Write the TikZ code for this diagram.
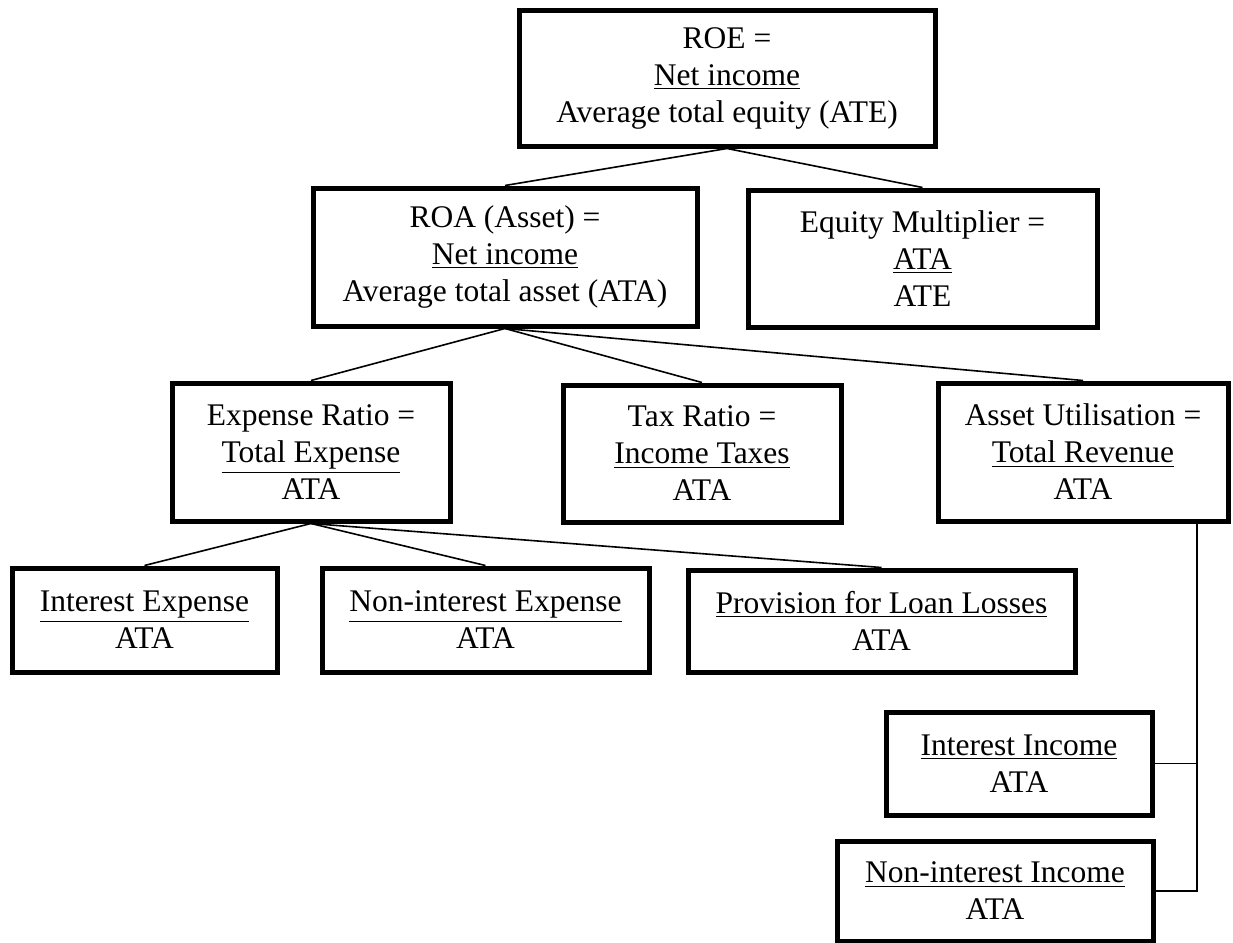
\documentclass[tikz,border=0pt]{standalone}
\usepackage{fontspec}
\setmainfont{Liberation Serif}
\begin{document}
\begin{tikzpicture}[x=0.5pt, y=-0.5pt, thick, ratio box/.style={draw, line width=2.5pt, align=center, inner sep=0pt, font=\fontsize{15.75}{18.5}\selectfont}]
\useasboundingbox (0,0) rectangle (1233,943);
\begin{scope}[every node/.style={ratio box}]
\node (roe) at (727,78) [minimum width=208pt, minimum height=68pt] {ROE =\\\underline{Net income}\\Average total equity (ATE)};
\node (roa) at (505,257) [minimum width=192pt, minimum height=69pt] {ROA (Asset) =\\\underline{Net income}\\Average total asset (ATA)};
\node (em) at (922.5,258.5) [minimum width=174.5pt, minimum height=68.5pt] {Equity Multiplier =\\\underline{ATA}\\ATE};
\node (er) at (311,452) [minimum width=139pt, minimum height=69pt] {Expense Ratio =\\\underline{Total Expense}\\ATA};
\node (tr) at (702,453.5) [minimum width=139pt, minimum height=68.5pt] {Tax Ratio =\\\underline{Income Taxes}\\ATA};
\node (au) at (1083,452) [minimum width=145pt, minimum height=69pt] {Asset Utilisation =\\\underline{Total Revenue}\\ATA};
\node (ie) at (144.5,620) [minimum width=132.5pt, minimum height=52pt] {\underline{Interest Expense}\\ATA};
\node (nie) at (485.5,620) [minimum width=163.5pt, minimum height=52pt] {\underline{Non-interest Expense}\\ATA};
\node (pll) at (881.5,621) [minimum width=193.5pt, minimum height=51pt] {\underline{Provision for Loan Losses}\\ATA};
\node (ii) at (1019,763.5) [minimum width=133pt, minimum height=51.5pt] {\underline{Interest Income}\\ATA};
\node (nii) at (995,891) [minimum width=158pt, minimum height=50pt] {\underline{Non-interest Income}\\ATA};
\end{scope}
\coordinate (rail) at (1197,521);
\draw (roe.south) edge (roa.north);
\draw (roe.south) edge (em.north);
\draw (roa.south) edge (er.north);
\draw (roa.south) edge (tr.north);
\draw (roa.south) edge (au.north);
\draw (er.south) edge (ie.north);
\draw (er.south) edge (nie.north);
\draw (er.south) edge (pll.north);
\draw [semithick] (au.south -| rail) |- (nii.east);
\draw [semithick] (ii.east) -- (ii.east -| rail);
\end{tikzpicture}
\end{document}
